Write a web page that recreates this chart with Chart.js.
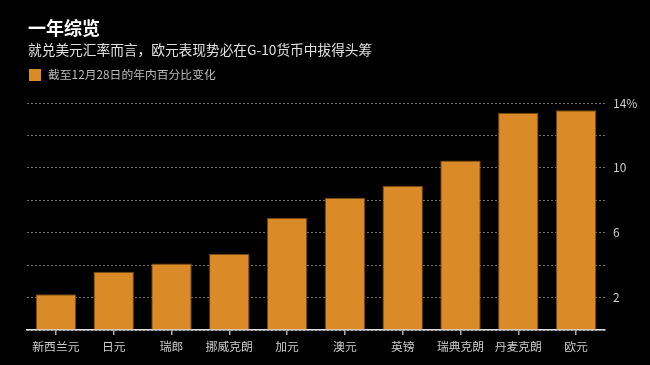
<!DOCTYPE html>
<html>
<head>
<meta charset="utf-8">
<script src="https://cdn.jsdelivr.net/npm/chart.js@4/dist/chart.umd.min.js"></script>
<style>
 html,body{margin:0;padding:0;background:#000;}
 body{width:650px;height:365px;position:relative;overflow:hidden;font-family:"Noto Sans CJK SC","Noto Sans",sans-serif;}
 #title{position:absolute;left:28px;top:14px;font-size:18px;font-weight:bold;color:#fff;}
 #subtitle{position:absolute;left:28px;top:39px;font-size:13.7px;color:#e0e0e0;}
 #legend{position:absolute;left:29px;top:66px;font-size:11.8px;color:#bbb;line-height:16px;}
 #legend span{display:inline-block;width:12px;height:12px;background:#da8a26;vertical-align:-2px;margin-right:7px;}
 #wrap{position:absolute;left:0;top:0;width:650px;height:365px;}
</style>
</head>
<body>
<div id="wrap"><canvas id="chart"></canvas></div>
<div id="title">一年综览</div>
<div id="subtitle">就兑美元汇率而言，欧元表现势必在G-10货币中拔得头筹</div>
<div id="legend"><span></span>截至12月28日的年内百分比变化</div>
<script>
 /* data */
 var categories=["新西兰元","日元","瑞郎","挪威克朗","加元","澳元","英镑","瑞典克朗","丹麦克朗","欧元"];
 var changes=[2.2,3.6,4.1,4.7,6.9,8.15,8.9,10.45,13.4,13.55];
 var tick_labels={2:"2",6:"6",10:"10",14:"14%"};

 /* chart */
 Chart.defaults.font.family='"Noto Sans CJK SC","Noto Sans",sans-serif';
 var ctx=document.getElementById("chart").getContext('2d');
 var myChart=new Chart(ctx,{
  type:'bar',
  data:{
   labels:categories,
   datasets:[{
    label:'截至12月28日的年内百分比变化',
    data:changes,
    backgroundColor:'#da8a26',
    borderColor:'#6e4412',
    borderWidth:1,
    categoryPercentage:1,
    barPercentage:0.7
   }]
  },
  options:{
   responsive:true,
   maintainAspectRatio:false,
   animation:false,
   layout:{padding:{top:103,left:27,right:0,bottom:0}},
   plugins:{legend:{display:false},tooltip:{enabled:false}},
   scales:{
    x:{
     afterFit:function(scale){scale.height=35;},
     grid:{offset:false,drawOnChartArea:false,drawTicks:true,tickLength:5,color:'#aaa',lineWidth:1.5},
     border:{display:true,color:'#ddd',width:1.5},
     ticks:{color:'#ccc',font:{size:11.8},padding:4,maxRotation:0,autoSkip:false}
    },
    y:{
     position:'right',
     min:0,
     max:14,
     afterFit:function(scale){scale.width=45;},
     grid:{color:'rgba(160,160,160,0.7)',drawTicks:false,lineWidth:1},
     border:{display:false,dash:[2,2]},
     ticks:{
      stepSize:2,
      color:'#ccc',
      font:{size:12},
      padding:8,
      callback:function(value){return tick_labels[value]||'';}
     }
    }
   }
  }
 });
</script>
</body>
</html>
